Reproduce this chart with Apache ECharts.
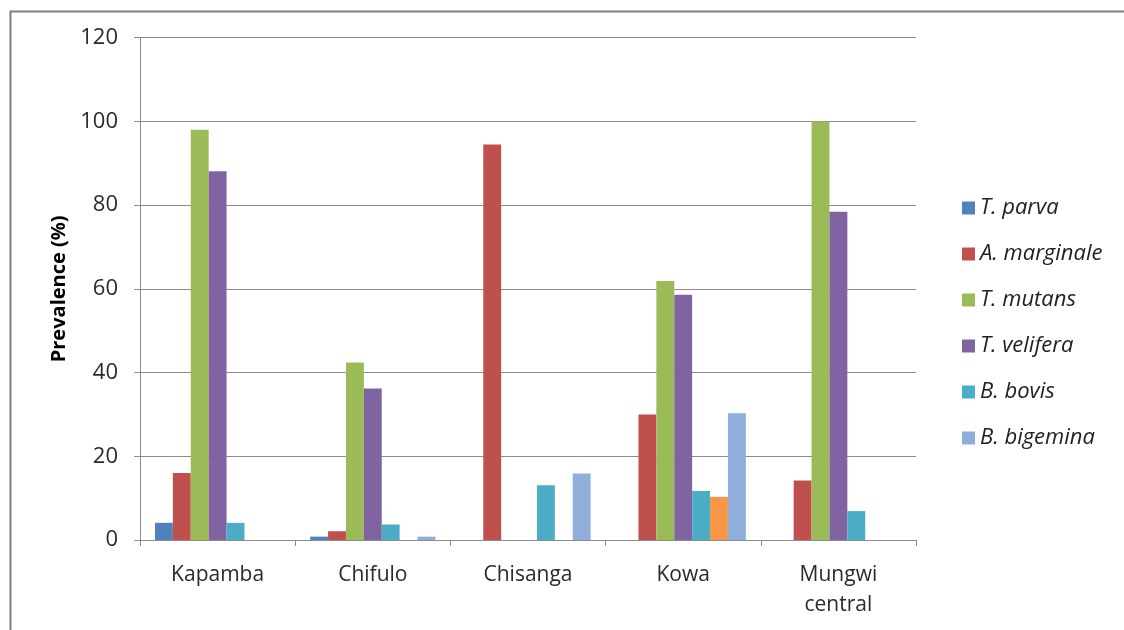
<!DOCTYPE html>
<html>
<head>
<meta charset="utf-8">
<script src="https://cdn.jsdelivr.net/npm/echarts@6/dist/echarts.min.js"></script>
<style>
html,body{margin:0;padding:0;background:#fff;}
#chart{width:1124px;height:630px;}
</style>
</head>
<body>
<div id="chart"></div>
<script>
const categories = ['Kapamba', 'Chifulo', 'Chisanga', 'Kowa', 'Mungwi\ncentral'];
const yTicks = [0, 20, 40, 60, 80, 100, 120];
const tParva      = [4.1, 0.8, 0, 0, 0];
const aMarginale  = [16.0, 2.1, 94.5, 30.0, 14.2];
const tMutans     = [98.0, 42.4, 0, 61.9, 100.0];
const tVelifera   = [88.1, 36.2, 0, 58.6, 78.4];
const bBovis      = [4.1, 3.7, 13.1, 11.7, 6.9];
const unlabeled   = [0, 0, 0, 10.3, 0];
const bBigemina   = [0, 0.8, 15.9, 30.3, 0];

const seriesDefs = [
  {name: 'T. parva', data: tParva, color: '#4F81BD'},
  {name: 'A. marginale', data: aMarginale, color: '#C0504D'},
  {name: 'T. mutans', data: tMutans, color: '#9BBB59'},
  {name: 'T. velifera', data: tVelifera, color: '#8064A2'},
  {name: 'B. bovis', data: bBovis, color: '#4BACC6'},
  {name: ' ', data: unlabeled, color: '#F79646'},
  {name: 'B. bigemina', data: bBigemina, color: '#90AEDA'}
];

const FONT = '"Open Sans"';
const chart = echarts.init(document.getElementById('chart'), null, {renderer: 'canvas'});
chart.setOption({
  backgroundColor: '#ffffff',
  animation: false,
  graphic: [{
    type: 'rect', left: 8, top: 9, silent: true,
    shape: {width: 1300, height: 800},
    style: {fill: 'none', stroke: '#808080', lineWidth: 2}
  }],
  grid: {left: 140, right: 208, top: 37.7, bottom: 90, containLabel: false},
  legend: {
    orient: 'vertical',
    left: 957, top: 192,
    itemWidth: 13, itemHeight: 13, itemGap: 24,
    icon: 'rect',
    data: ['T. parva', 'A. marginale', 'T. mutans', 'T. velifera', 'B. bovis', 'B. bigemina'],
    textStyle: {fontFamily: FONT, fontStyle: 'italic', fontSize: 22, color: '#222', lineHeight: 20}
  },
  xAxis: {
    type: 'category',
    data: categories,
    boundaryGap: true,
    axisLine: {lineStyle: {color: '#8c8c8c', width: 1}},
    axisTick: {show: true, length: 6, lineStyle: {color: '#8c8c8c'}},
    axisLabel: {fontFamily: FONT, fontSize: 21, color: '#2a2a2a', margin: 20, lineHeight: 30}
  },
  yAxis: {
    type: 'value',
    min: yTicks[0], max: yTicks[yTicks.length - 1], interval: 20,
    name: 'Prevalence (%)',
    nameLocation: 'middle',
    nameGap: 70,
    nameTextStyle: {fontFamily: FONT, fontWeight: 'bold', fontSize: 20, color: '#000'},
    axisLine: {show: true, lineStyle: {color: '#8c8c8c', width: 1}},
    axisTick: {show: true, length: 6, lineStyle: {color: '#8c8c8c'}},
    splitLine: {lineStyle: {color: '#8c8c8c', width: 1}},
    axisLabel: {fontFamily: FONT, fontSize: 22, color: '#2a2a2a', margin: 22}
  },
  series: seriesDefs.map(s => ({
    type: 'bar',
    name: s.name,
    data: s.data,
    barGap: '0%',
    barCategoryGap: '19.3%',
    itemStyle: {color: s.color}
  }))
});
</script>
</body>
</html>
